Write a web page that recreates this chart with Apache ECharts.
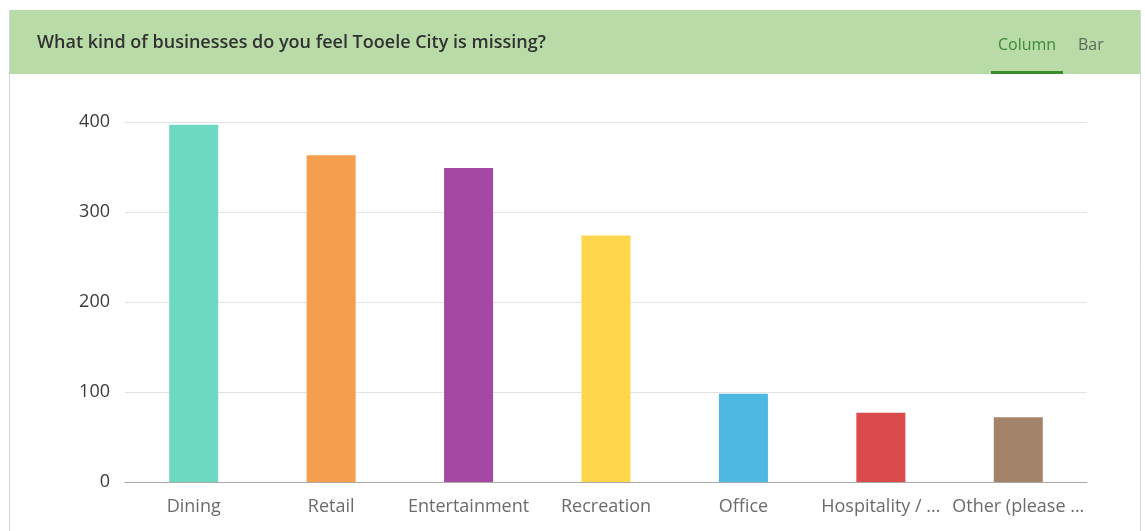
<!DOCTYPE html>
<html>
<head>
<meta charset="utf-8">
<script src="https://cdn.jsdelivr.net/npm/echarts@6/dist/echarts.min.js"></script>
<style>
  html, body { margin: 0; padding: 0; background: #fff; }
  #chart { width: 1145px; height: 531px; }
</style>
</head>
<body>
<div id="chart"></div>
<script>
  var categories = ['Dining', 'Retail', 'Entertainment', 'Recreation', 'Office', 'Hospitality / ...', 'Other (please ...'];
  var values = [397, 363, 349, 274, 98, 77, 72];
  var barColors = ['#6dd9c0', '#f59f4e', '#a349a4', '#fdd64b', '#4db9e1', '#d94b4c', '#a3836a'];
  var yTicks = [0, 100, 200, 300, 400];
  var title = 'What kind of businesses do you feel Tooele City is missing?';

  var chart = echarts.init(document.getElementById('chart'));

  var option = {
    animation: false,
    textStyle: { fontFamily: '"Open Sans", sans-serif' },
    graphic: [
      // card border + header band
      { type: 'rect', shape: { x: 9.5, y: 10.5, width: 1131, height: 540 }, style: { fill: '#fff', stroke: '#d6d6d6', lineWidth: 1 }, z: -10 },
      { type: 'rect', shape: { x: 10, y: 10, width: 1130, height: 64 }, style: { fill: '#b9dba7' }, z: -5 },
      { type: 'text', left: 37, top: 34, style: { text: title, font: '600 18px "Open Sans", sans-serif', fill: '#323232' } },
      { type: 'text', left: 998, top: 37, style: { text: 'Column', font: '16px "Open Sans", sans-serif', fill: '#3d8a36' } },
      { type: 'text', left: 1078, top: 37, style: { text: 'Bar', font: '16px "Open Sans", sans-serif', fill: '#5c6b5a' } },
      { type: 'rect', shape: { x: 991, y: 71, width: 72, height: 3 }, style: { fill: '#3a8c2e' } }
    ],
    grid: { left: 125, right: 58, top: 122, bottom: 49 },
    xAxis: {
      type: 'category',
      data: categories,
      axisLine: { lineStyle: { color: '#a8a8a8' } },
      axisTick: { alignWithLabel: true, length: 5, lineStyle: { color: '#888' } },
      axisLabel: { color: '#6b6b6b', fontSize: 18, margin: 16, interval: 0 }
    },
    yAxis: {
      type: 'value',
      min: yTicks[0],
      max: yTicks[yTicks.length - 1],
      interval: 100,
      axisLine: { show: false },
      axisTick: { show: false },
      axisLabel: { color: '#3a3a3a', fontSize: 18, margin: 15 },
      splitLine: { lineStyle: { color: '#e3e3e3' } }
    },
    series: [{
      type: 'bar',
      barWidth: 49,
      data: values.map(function (v, i) {
        return { value: v, itemStyle: { color: barColors[i] } };
      })
    }]
  };

  chart.setOption(option);
</script>
</body>
</html>
